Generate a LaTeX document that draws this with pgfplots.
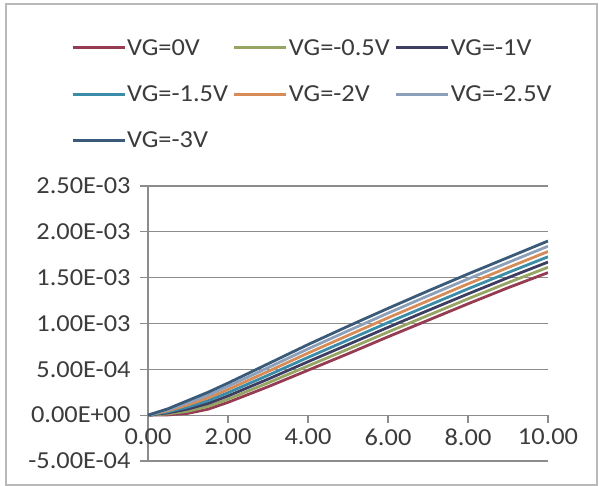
\documentclass[border=0pt]{standalone}
\usepackage{pgfplots}
\pgfplotsset{compat=1.18}
\usepackage{pgfplotstable}
\usepackage{fontspec}
\setmainfont{Carlito}[FakeStretch=1.08]
\definecolor{cA}{RGB}{150,60,82}
\definecolor{cB}{RGB}{150,165,100}
\definecolor{cC}{RGB}{62,62,98}
\definecolor{cD}{RGB}{58,140,168}
\definecolor{cE}{RGB}{215,140,88}
\definecolor{cF}{RGB}{140,160,185}
\definecolor{cG}{RGB}{58,90,122}
\definecolor{gridc}{RGB}{140,140,140}
\definecolor{txt}{RGB}{60,60,60}
\pgfplotstableread{
x    s0       s1       s2       s3       s4       s5       s6
0    0        0        0        0        0        0        0
0.5  0.003e-3 0.014e-3 0.025e-3 0.036e-3 0.048e-3 0.059e-3 0.070e-3
1    0.020e-3 0.043e-3 0.067e-3 0.090e-3 0.113e-3 0.137e-3 0.160e-3
1.5  0.065e-3 0.096e-3 0.127e-3 0.158e-3 0.188e-3 0.219e-3 0.250e-3
2    0.140e-3 0.175e-3 0.210e-3 0.245e-3 0.280e-3 0.315e-3 0.350e-3
3    0.310e-3 0.352e-3 0.393e-3 0.435e-3 0.477e-3 0.518e-3 0.560e-3
4    0.490e-3 0.537e-3 0.583e-3 0.630e-3 0.677e-3 0.723e-3 0.770e-3
5    0.670e-3 0.720e-3 0.770e-3 0.820e-3 0.870e-3 0.920e-3 0.970e-3
6    0.855e-3 0.907e-3 0.958e-3 1.010e-3 1.062e-3 1.113e-3 1.165e-3
7    1.035e-3 1.088e-3 1.142e-3 1.195e-3 1.248e-3 1.302e-3 1.355e-3
8    1.215e-3 1.269e-3 1.323e-3 1.378e-3 1.432e-3 1.486e-3 1.540e-3
9    1.390e-3 1.445e-3 1.500e-3 1.555e-3 1.610e-3 1.665e-3 1.720e-3
10   1.555e-3 1.613e-3 1.670e-3 1.728e-3 1.785e-3 1.843e-3 1.900e-3
}\data
\begin{document}
\begin{tikzpicture}
\useasboundingbox (-148bp,-25bp) rectangle (451bp,461bp);
\fill[white] (-148bp,-25bp) rectangle (451bp,461bp);
\draw[gray!55, line width=1.3bp] (-142bp,-24bp) rectangle (449bp,457bp);
\begin{axis}[
  at={(0bp,0bp)}, anchor=south west,
  scale only axis, width=400bp, height=275bp,
  xmin=0, xmax=10, ymin=-0.0005, ymax=0.0025,
  scaled y ticks=false,
  axis y line=left, axis x line=middle,
  axis line style={-, gridc, line width=1.3bp},
  hide obscured x ticks=false,
  xtick={0,2,4,6,8,10},
  xticklabels={0.00,2.00,4.00,6.00,8.00,10.00},
  ytick={-0.0005,0,0.0005,0.001,0.0015,0.002,0.0025},
  yticklabels={-5.00E-04,0.00E+00,5.00E-04,1.00E-03,1.50E-03,2.00E-03,2.50E-03},
  ymajorgrids,
  grid style={gridc, line width=1.3bp},
  tick style={gridc, line width=1.3bp},
  major tick length=8bp,
  tick align=outside,
  ticklabel style={font=\fontsize{24.5}{28}\selectfont, text=txt},
  yticklabel style={xshift=-6bp},
  xticklabel style={yshift=-2bp},
  legend columns=3,
  legend cell align=left,
  legend style={at={(axis description cs:-0.1925,1.538)}, anchor=north west,
    draw=none, fill=none, inner sep=0pt,
    font=\fontsize{24.5}{28}\selectfont, text=txt,
    row sep=27bp,
    /tikz/every even column/.append style={column sep=4bp},
    nodes={inner sep=1bp}},
  legend image code/.code={\draw[line width=3bp] (0bp,0bp) -- (52bp,0bp);},
  every axis plot/.append style={line width=2.8bp},
]
\addplot[cA] table[x=x,y=s0]{\data};
\addlegendentry{VG=0V}
\addplot[cB] table[x=x,y=s1]{\data};
\addlegendentry{VG=-0.5V}
\addplot[cC] table[x=x,y=s2]{\data};
\addlegendentry{VG=-1V}
\addplot[cD] table[x=x,y=s3]{\data};
\addlegendentry{VG=-1.5V}
\addplot[cE] table[x=x,y=s4]{\data};
\addlegendentry{VG=-2V}
\addplot[cF] table[x=x,y=s5]{\data};
\addlegendentry{VG=-2.5V}
\addplot[cG] table[x=x,y=s6]{\data};
\addlegendentry{VG=-3V}
\end{axis}
\end{tikzpicture}
\end{document}
